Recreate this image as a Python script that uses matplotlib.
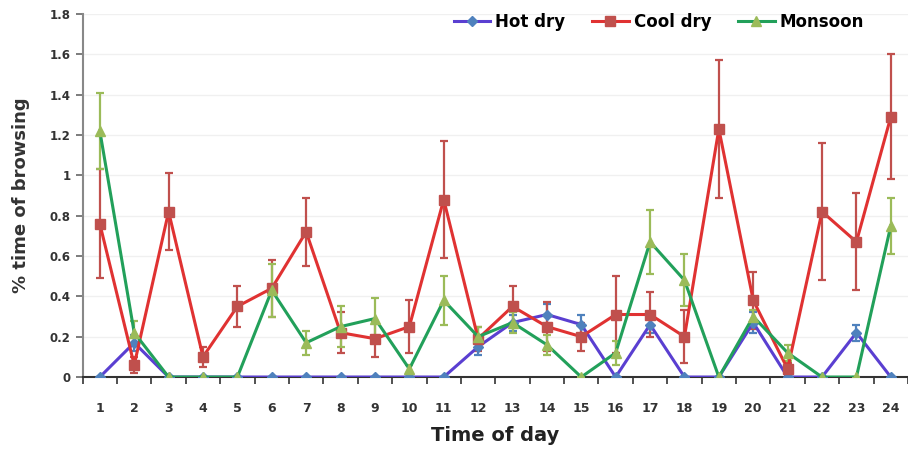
import matplotlib
matplotlib.use("Agg")
import matplotlib.pyplot as plt
from matplotlib.ticker import FixedLocator

hours = list(range(1, 25))

hot_dry = [0, 0.17, 0, 0, 0, 0, 0, 0, 0, 0, 0, 0.15,
           0.27, 0.31, 0.26, 0, 0.26, 0, 0, 0.27, 0, 0, 0.22, 0]
hot_dry_err = [0, 0.04, 0, 0, 0, 0, 0, 0, 0, 0, 0, 0.04,
               0.04, 0.05, 0.05, 0, 0.04, 0, 0, 0.05, 0, 0, 0.04, 0]

cool_dry = [0.76, 0.06, 0.82, 0.10, 0.35, 0.44, 0.72, 0.22, 0.19, 0.25, 0.88, 0.19,
            0.35, 0.25, 0.20, 0.31, 0.31, 0.20, 1.23, 0.38, 0.04, 0.82, 0.67, 1.29]
cool_dry_err = [0.27, 0.04, 0.19, 0.05, 0.10, 0.14, 0.17, 0.10, 0.09, 0.13, 0.29, 0.06,
                0.10, 0.12, 0.07, 0.19, 0.11, 0.13, 0.34, 0.14, 0.03, 0.34, 0.24, 0.31]

monsoon = [1.22, 0.22, 0, 0, 0, 0.43, 0.17, 0.25, 0.29, 0.04, 0.38, 0.20,
           0.27, 0.16, 0, 0.12, 0.67, 0.48, 0, 0.30, 0.12, 0, 0, 0.75]
monsoon_err = [0.19, 0.06, 0, 0, 0, 0.13, 0.06, 0.10, 0.10, 0.02, 0.12, 0.05,
               0.05, 0.05, 0, 0.06, 0.16, 0.13, 0, 0.03, 0.04, 0, 0, 0.14]

y_ticks = [0, 0.2, 0.4, 0.6, 0.8, 1, 1.2, 1.4, 1.6, 1.8]
y_tick_labels = ["0", "0.2", "0.4", "0.6", "0.8", "1", "1.2", "1.4", "1.6", "1.8"]

series = [
    ("Hot dry", hot_dry, hot_dry_err, "#5a3fd1", "#4f81bd", "D", 5),
    ("Cool dry", cool_dry, cool_dry_err, "#e03232", "#c0504d", "s", 7),
    ("Monsoon", monsoon, monsoon_err, "#22a05a", "#9bbb59", "^", 7),
]

plt.rcParams["font.family"] = ["DejaVu Sans"]
fig = plt.figure(figsize=(9.08, 4.51), dpi=100)
ax = fig.add_axes([0.091, 0.164, 0.909, 0.805])

handles = []
for name, vals, err, line_c, mark_c, marker, ms in series:
    cont = ax.errorbar(hours, vals, yerr=err, color=line_c, lw=2.2,
                       marker=marker, ms=ms, mfc=mark_c, mec=mark_c,
                       ecolor=mark_c, elinewidth=1.6, capsize=3, capthick=1.6,
                       label=name, zorder=3)
    handles.append(cont.lines[0])

ax.set_xlim(0.5, 24.5)
ax.set_ylim(0, 1.8)
ax.set_yticks(y_ticks)
ax.set_yticklabels(y_tick_labels)
ax.set_xticks(hours)
ax.xaxis.set_minor_locator(FixedLocator([h + 0.5 for h in range(0, 25)]))
ax.tick_params(axis="x", which="major", length=0, pad=18, labelsize=9)
ax.tick_params(axis="x", which="minor", length=5, width=1.2, direction="out", color="#333333")
ax.tick_params(axis="y", length=5, width=1.2, labelsize=8.5, color="#666666")
for lab in ax.get_xticklabels() + ax.get_yticklabels():
    lab.set_fontweight("bold")
    lab.set_color("#333333")

ax.grid(axis="y", color="#f0f0f0", lw=1)
ax.set_axisbelow(True)
for side in ["top", "right"]:
    ax.spines[side].set_visible(False)
ax.spines["left"].set_color("#888888")
ax.spines["left"].set_linewidth(1.5)
ax.spines["bottom"].set_color("#333333")
ax.spines["bottom"].set_linewidth(1.5)

ax.set_ylabel("% time of browsing", fontsize=13, fontweight="bold", color="#333333", labelpad=14)
ax.set_xlabel("Time of day", fontsize=14, fontweight="bold", color="#222222", labelpad=8)

ax.legend(handles, [s[0] for s in series], loc="upper right", bbox_to_anchor=(0.965, 1.045),
          ncol=3, frameon=False, prop={"weight": "bold", "size": 12}, handlelength=2.2,
          columnspacing=1.6, handletextpad=0.3)

fig.savefig("out.png", dpi=100)
